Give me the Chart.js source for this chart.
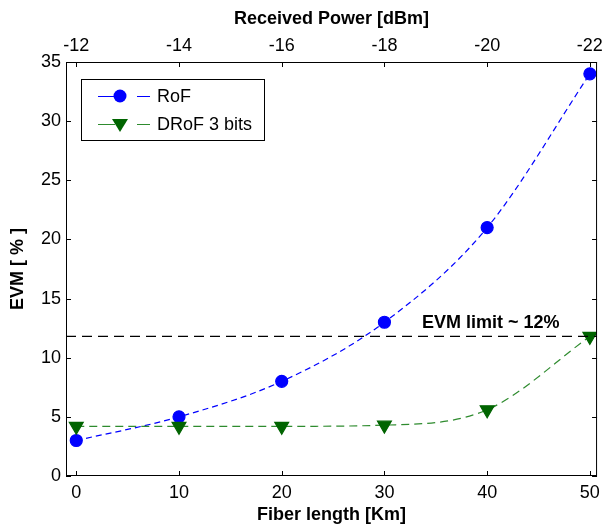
<!DOCTYPE html>
<html>
<head>
<meta charset="utf-8">
<script src="https://cdn.jsdelivr.net/npm/chart.js@4.4.1/dist/chart.umd.min.js"></script>
<style>
  html, body { margin: 0; padding: 0; background: #fff; }
  #wrap { width: 608px; height: 527px; }
</style>
</head>
<body>
<div id="wrap"><canvas id="c" width="608" height="527"></canvas></div>
<script>
const fiberKm = [0, 10, 20, 30, 40, 50];
const rofEvm = [3.0, 5.0, 8.0, 13.0, 21.0, 34.0];
const drofEvm = [4.2, 4.2, 4.2, 4.3, 5.6, 11.8];
const evmLimit = 11.8;
const xTicks = [0, 10, 20, 30, 40, 50];
const yTicks = [0, 5, 10, 15, 20, 25, 30, 35];
const powerTicks = [-12, -14, -16, -18, -20, -22];

const FONT = 'Liberation Sans, Arial, sans-serif';
const BLUE = '#0000ff';
const GREEN_LINE = '#2e8b2e';
const GREEN_MARK = '#006400';

const pts = (ys) => fiberKm.map((x, i) => ({ x, y: ys[i] }));

// box, inward ticks, legend and the limit label
const decor = {
  id: 'decor',
  afterDraw(chart) {
    const { ctx, chartArea: a, scales } = chart;
    ctx.save();
    ctx.strokeStyle = '#000';
    ctx.lineWidth = 1;
    ctx.setLineDash([]);
    ctx.strokeRect(a.left + 0.5, a.top + 0.5, a.right - a.left - 1, a.bottom - a.top - 1);

    const t = 5;
    ctx.beginPath();
    xTicks.forEach((v) => {
      const px = Math.round(scales.x.getPixelForValue(v)) + 0.5;
      ctx.moveTo(px, a.bottom); ctx.lineTo(px, a.bottom - t);
    });
    powerTicks.forEach((v) => {
      const px = Math.round(scales.x2.getPixelForValue(v)) + 0.5;
      ctx.moveTo(px, a.top); ctx.lineTo(px, a.top + t);
    });
    yTicks.forEach((v) => {
      const py = Math.round(scales.y.getPixelForValue(v)) + 0.5;
      ctx.moveTo(a.left, py); ctx.lineTo(a.left + t, py);
      ctx.moveTo(a.right, py); ctx.lineTo(a.right - t, py);
    });
    ctx.stroke();

    // limit label
    ctx.fillStyle = '#000';
    ctx.font = 'bold 18px ' + FONT;
    ctx.textAlign = 'left';
    ctx.textBaseline = 'alphabetic';
    ctx.fillText('EVM limit ~ 12%', 422, 328);

    // legend
    const lx = 81, ly = 79, lw = 183, lh = 61;
    ctx.fillStyle = '#fff';
    ctx.fillRect(lx, ly, lw, lh);
    ctx.strokeStyle = '#000';
    ctx.strokeRect(lx + 0.5, ly + 0.5, lw, lh);

    const rows = [
      { y: 96, color: BLUE, mark: BLUE, label: 'RoF', shape: 'circle' },
      { y: 124, color: GREEN_LINE, mark: GREEN_MARK, label: 'DRoF 3 bits', shape: 'tri' },
    ];
    rows.forEach((r) => {
      ctx.strokeStyle = r.color;
      ctx.lineWidth = 1.2;
      ctx.beginPath();
      ctx.moveTo(98, r.y + 0.5); ctx.lineTo(115, r.y + 0.5);
      ctx.moveTo(137, r.y + 0.5); ctx.lineTo(150, r.y + 0.5);
      ctx.stroke();
      ctx.fillStyle = r.mark;
      ctx.beginPath();
      if (r.shape === 'circle') {
        ctx.arc(120, r.y, 6.5, 0, Math.PI * 2);
      } else {
        ctx.moveTo(112, r.y - 5);
        ctx.lineTo(128, r.y - 5);
        ctx.lineTo(120, r.y + 8);
        ctx.closePath();
      }
      ctx.fill();
      ctx.fillStyle = '#000';
      ctx.font = '18px ' + FONT;
      ctx.textBaseline = 'middle';
      ctx.fillText(r.label, 157, r.y + 1);
    });
    ctx.restore();
  },
};

const tickFont = { family: FONT, size: 18 };
const titleFont = { family: FONT, size: 18, weight: 'bold' };
const noGrid = { display: false, drawTicks: false };

new Chart(document.getElementById('c'), {
  type: 'scatter',
  data: {
    datasets: [
      {
        label: 'EVM limit',
        data: [{ x: -1, y: evmLimit }, { x: 50.7, y: evmLimit }],
        showLine: true,
        borderColor: '#000',
        borderWidth: 1.3,
        borderDash: [10, 6],
        pointRadius: 0,
      },
      {
        label: 'DRoF 3 bits',
        data: pts(drofEvm),
        showLine: true,
        borderColor: GREEN_LINE,
        borderWidth: 1.2,
        borderDash: [8, 5],
        cubicInterpolationMode: 'monotone',
        pointStyle: 'triangle',
        pointRotation: 180,
        pointRadius: 8,
        pointBackgroundColor: GREEN_MARK,
        pointBorderColor: GREEN_MARK,
      },
      {
        label: 'RoF',
        data: pts(rofEvm),
        showLine: true,
        borderColor: BLUE,
        borderWidth: 1.2,
        borderDash: [6, 4],
        cubicInterpolationMode: 'monotone',
        pointStyle: 'circle',
        pointRadius: 6,
        pointBackgroundColor: BLUE,
        pointBorderColor: BLUE,
      },
    ],
  },
  options: {
    responsive: false,
    animation: false,
    layout: { padding: { right: 4, top: 0, left: 0, bottom: 0 } },
    plugins: { legend: { display: false }, tooltip: { enabled: false } },
    scales: {
      x: {
        type: 'linear',
        position: 'bottom',
        min: -1,
        max: 50.7,
        afterBuildTicks: (s) => { s.ticks = xTicks.map((v) => ({ value: v })); },
        afterFit: (s) => { s.height = 51; },
        grid: noGrid,
        border: { display: false },
        ticks: { color: '#000', font: tickFont, padding: 6, maxRotation: 0 },
        title: {
          display: true, text: 'Fiber length [Km]', color: '#000',
          font: titleFont, padding: { top: 0, bottom: 1 },
        },
      },
      x2: {
        type: 'linear',
        position: 'top',
        reverse: true,
        min: -22.14,
        max: -11.8,
        afterBuildTicks: (s) => { s.ticks = powerTicks.map((v) => ({ value: v })); },
        afterFit: (s) => { s.height = 62; },
        grid: noGrid,
        border: { display: false },
        ticks: { color: '#000', font: tickFont, padding: 5, maxRotation: 0 },
        title: {
          display: true, text: 'Received Power [dBm]', color: '#000',
          font: titleFont, padding: { top: 8, bottom: 0 },
        },
      },
      y: {
        type: 'linear',
        min: 0,
        max: 35,
        afterBuildTicks: (s) => { s.ticks = yTicks.map((v) => ({ value: v })); },
        afterFit: (s) => { s.width = 66; },
        grid: noGrid,
        border: { display: false },
        ticks: { color: '#000', font: tickFont, padding: 5 },
        title: {
          display: true, text: 'EVM [ % ]', color: '#000',
          font: titleFont, padding: { top: 7, bottom: 0 },
        },
      },
    },
  },
  plugins: [decor],
});
</script>
</body>
</html>
